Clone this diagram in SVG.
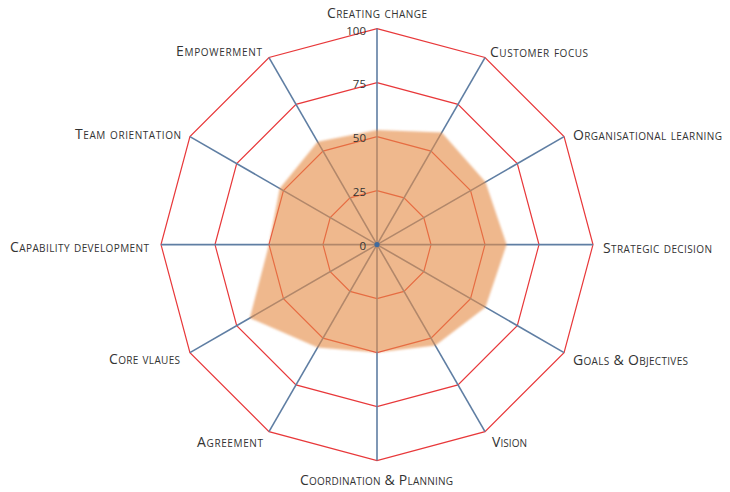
<svg xmlns="http://www.w3.org/2000/svg" width="730" height="492" viewBox="0 0 730 492">
<style>
.ring{fill:none;stroke:#E8383A;stroke-width:1.2}
.axis{stroke:#5F7EA3;stroke-width:1.6}
.lbl{font-family:"Open Sans","Liberation Sans",sans-serif;font-size:14px;font-variant:small-caps;fill:#333}
.tick{font-family:"Open Sans","Liberation Sans",sans-serif;font-size:11.5px;fill:#333;text-anchor:end;dominant-baseline:central}
</style>
<defs>
<filter id="soft" x="-10%" y="-10%" width="120%" height="120%"><feGaussianBlur stdDeviation="1.2"/></filter>
</defs>
<rect width="730" height="492" fill="#fff"/>
<g id="grid" transform="translate(377,244.6)">
<polygon class="ring" points="0,-216 108,-187.06 187.06,-108 216,0 187.06,108 108,187.06 0,216 -108,187.06 -187.06,108 -216,0 -187.06,-108 -108,-187.06"/>
<polygon class="ring" points="0,-162 81,-140.3 140.3,-81 162,0 140.3,81 81,140.3 0,162 -81,140.3 -140.3,81 -162,0 -140.3,-81 -81,-140.3"/>
<polygon class="ring" points="0,-108 54,-93.53 93.53,-54 108,0 93.53,54 54,93.53 0,108 -54,93.53 -93.53,54 -108,0 -93.53,-54 -54,-93.53"/>
<polygon class="ring" points="0,-54 27,-46.77 46.77,-27 54,0 46.77,27 27,46.77 0,54 -27,46.77 -46.77,27 -54,0 -46.77,-27 -27,-46.77"/>
</g>
<g id="connectors" transform="translate(377,244.6)">
<line class="axis" x1="0" y1="0" x2="0" y2="-216"/>
<line class="axis" x1="0" y1="0" x2="108" y2="-187.06"/>
<line class="axis" x1="0" y1="0" x2="187.06" y2="-108"/>
<line class="axis" x1="0" y1="0" x2="216" y2="0"/>
<line class="axis" x1="0" y1="0" x2="187.06" y2="108"/>
<line class="axis" x1="0" y1="0" x2="108" y2="187.06"/>
<line class="axis" x1="0" y1="0" x2="0" y2="216"/>
<line class="axis" x1="0" y1="0" x2="-108" y2="187.06"/>
<line class="axis" x1="0" y1="0" x2="-187.06" y2="108"/>
<line class="axis" x1="0" y1="0" x2="-216" y2="0"/>
<line class="axis" x1="0" y1="0" x2="-187.06" y2="-108"/>
<line class="axis" x1="0" y1="0" x2="-108" y2="-187.06"/>
</g>
<g id="data" transform="translate(377,244.6)">
<polygon points="0,-114.5 64.8,-112.2 108.5,-62.6 129.6,0 108.5,62.6 58.3,101 0,108 -59.4,102.9 -127.2,73.4 -108,0 -97.3,-56.2 -59.4,-102.9" fill="#E58D48" fill-opacity="0.62" filter="url(#soft)"/>
<circle cx="0" cy="0" r="2.6" fill="#3F6A9E"/>
</g>
<g id="ticks">
<text class="tick" x="366" y="30">100</text>
<text class="tick" x="366" y="83">75</text>
<text class="tick" x="366" y="137">50</text>
<text class="tick" x="366" y="191">25</text>
<text class="tick" x="366" y="245">0</text>
</g>
<g id="n-creating"><text class="lbl" x="327" y="17.5" textLength="100" lengthAdjust="spacing">Creating change</text></g>
<g id="n-customer"><text class="lbl" x="490" y="56.5" textLength="98" lengthAdjust="spacing">Customer focus</text></g>
<g id="n-org"><text class="lbl" x="573" y="140" textLength="149" lengthAdjust="spacing">Organisational learning</text></g>
<g id="n-strategic"><text class="lbl" x="603" y="253" textLength="109" lengthAdjust="spacing">Strategic decision</text></g>
<g id="n-goals"><text class="lbl" x="573" y="365" textLength="115" lengthAdjust="spacing">Goals &amp; Objectives</text></g>
<g id="n-vision"><text class="lbl" x="492" y="447" textLength="35" lengthAdjust="spacing">Vision</text></g>
<g id="n-coord"><text class="lbl" x="300" y="485" textLength="153" lengthAdjust="spacing">Coordination &amp; Planning</text></g>
<g id="n-agreement"><text class="lbl" x="197" y="447" textLength="66" lengthAdjust="spacing">Agreement</text></g>
<g id="n-core"><text class="lbl" x="109" y="364" textLength="71" lengthAdjust="spacing">Core vlaues</text></g>
<g id="n-capability"><text class="lbl" x="10" y="252" textLength="139" lengthAdjust="spacing">Capability development</text></g>
<g id="n-team"><text class="lbl" x="75" y="139" textLength="106" lengthAdjust="spacing">Team orientation</text></g>
<g id="n-empower"><text class="lbl" x="176" y="56" textLength="86" lengthAdjust="spacing">Empowerment</text></g>
</svg>
